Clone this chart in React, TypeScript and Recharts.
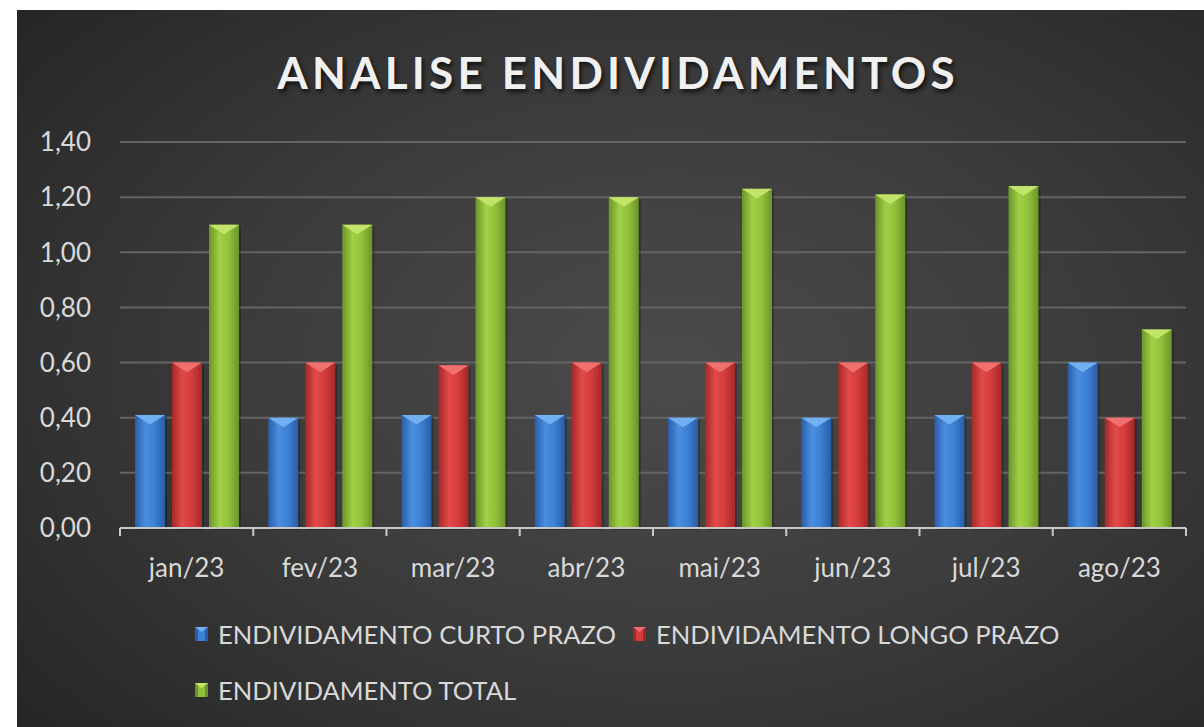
import React from "react";
import {
  BarChart,
  Bar,
  XAxis,
  YAxis,
  CartesianGrid,
  Legend,
} from "recharts";

const months = ["jan/23", "fev/23", "mar/23", "abr/23", "mai/23", "jun/23", "jul/23", "ago/23"];
const curtoPrazo = [0.41, 0.4, 0.41, 0.41, 0.4, 0.4, 0.41, 0.6];
const longoPrazo = [0.6, 0.6, 0.59, 0.6, 0.6, 0.6, 0.6, 0.4];
const total = [1.1, 1.1, 1.2, 1.2, 1.23, 1.21, 1.24, 0.72];
const yTicks = [0, 0.2, 0.4, 0.6, 0.8, 1.0, 1.2, 1.4];

const data = months.map((m, i) => ({
  month: m,
  curto: curtoPrazo[i],
  longo: longoPrazo[i],
  total: total[i],
}));

const W = 1187;
const H = 717;
const PLOT_LEFT = 103;
const PLOT_RIGHT = 1169;
const BAND = (PLOT_RIGHT - PLOT_LEFT) / months.length;
const FONT = "Lato, 'Noto Sans', sans-serif";

const series = [
  { key: "curto", name: "ENDIVIDAMENTO CURTO PRAZO", grad: "gBlue", top: "#72b0f2", dark: "#2a5da8", mid: "#4a8ee0", base: "#3d80d4" },
  { key: "longo", name: "ENDIVIDAMENTO LONGO PRAZO", grad: "gRed", top: "#f07070", dark: "#a52828", mid: "#e24a4a", base: "#d53c3c" },
  { key: "total", name: "ENDIVIDAMENTO TOTAL", grad: "gGreen", top: "#c2e46a", dark: "#6b9428", mid: "#a2d046", base: "#92c23c" },
];

const makeShape = (grad: string, top: string) => (props: any) => {
  const { x, y, width, height } = props;
  if (!height || height <= 0) return <g />;
  const d = Math.min(10, width * 0.32);
  return (
    <g>
      <rect x={x + 2} y={y + 2} width={width} height={height} fill="rgba(0,0,0,0.25)" />
      <rect x={x} y={y} width={width} height={height} fill={`url(#${grad})`} />
      <polygon points={`${x},${y} ${x + width},${y} ${x + width / 2},${y + d}`} fill={top} />
    </g>
  );
};

const XTick = (props: any) => {
  const { x, y, payload, index } = props;
  const last = index === months.length - 1;
  return (
    <g>
      <line x1={x - BAND / 2} x2={x - BAND / 2} y1={y} y2={y + 8} stroke="#c8c8c8" strokeWidth={2} />
      {last && <line x1={x + BAND / 2} x2={x + BAND / 2} y1={y} y2={y + 8} stroke="#c8c8c8" strokeWidth={2} />}
      <text x={x} y={y + 49} textAnchor="middle" fill="#d9d9d9" fontSize={26} fontFamily={FONT}>
        {payload.value}
      </text>
    </g>
  );
};

const LegendContent = () => (
  <div style={{ display: "flex", flexWrap: "wrap", width: 900, rowGap: 26, fontFamily: FONT }}>
    {series.map((s) => (
      <div key={s.key} style={{ display: "flex", alignItems: "center", height: 30, marginRight: 17 }}>
        <svg width={13} height={14} style={{ marginRight: 10 }}>
          <rect x={0} y={0} width={13} height={14} fill={s.base} />
          <rect x={0} y={0} width={3} height={14} fill={s.dark} />
          <rect x={10} y={0} width={3} height={14} fill={s.dark} />
          <polygon points="0,0 13,0 6.5,5" fill={s.top} />
        </svg>
        <span style={{ color: "#d9d9d9", fontSize: 25.6, whiteSpace: "nowrap" }}>{s.name}</span>
      </div>
    ))}
  </div>
);

export default function App() {
  return (
    <div style={{ position: "absolute", left: 0, top: 0, width: 1204, height: 727, background: "#fff", overflow: "hidden" }}>
      <div
        style={{
          position: "absolute",
          left: 17,
          top: 10,
          width: W,
          height: H,
          background: "radial-gradient(ellipse 70% 75% at 55% 50%, #4b4b4b 0%, #3c3c3c 50%, #272727 100%)",
        }}
      >
        <div
          style={{
            position: "absolute",
            left: 0,
            top: 32,
            width: 1202,
            textAlign: "center",
            color: "#f0f0f0",
            fontFamily: FONT,
            fontWeight: 700,
            fontSize: 44,
            letterSpacing: 4.2,
            lineHeight: "60px",
            textShadow: "2px 3px 4px rgba(0,0,0,0.7)",
          }}
        >
          ANALISE ENDIVIDAMENTOS
        </div>
        <BarChart
          width={W}
          height={H}
          data={data}
          margin={{ top: 132, right: W - PLOT_RIGHT, left: 0, bottom: 139 }}
          barCategoryGap={15}
          barGap={7}
          style={{ position: "absolute", left: 0, top: 0 }}
        >
          <defs>
            {series.map((s) => (
              <linearGradient key={s.grad} id={s.grad} x1="0" y1="0" x2="1" y2="0">
                <stop offset="0%" stopColor={s.dark} />
                <stop offset="35%" stopColor={s.mid} />
                <stop offset="65%" stopColor={s.base} />
                <stop offset="100%" stopColor={s.dark} />
              </linearGradient>
            ))}
          </defs>
          <CartesianGrid vertical={false} stroke="#646464" strokeWidth={2} />
          <XAxis
            dataKey="month"
            height={60}
            axisLine={{ stroke: "#c8c8c8", strokeWidth: 2 }}
            tickLine={false}
            tickSize={0}
            tickMargin={0}
            interval={0}
            tick={<XTick />}
          />
          <YAxis
            width={PLOT_LEFT}
            domain={[0, 1.4]}
            ticks={yTicks}
            axisLine={false}
            tickLine={false}
            tickSize={0}
            tickMargin={29}
            tickFormatter={(v: number) => v.toFixed(2).replace(".", ",")}
            tick={{ fill: "#d9d9d9", fontSize: 26, fontFamily: FONT }}
          />
          <Legend
            verticalAlign="middle"
            align="center"
            layout="horizontal"
            wrapperStyle={{ top: 609, left: 178, width: 900 }}
            content={<LegendContent />}
          />
          {series.map((s) => (
            <Bar
              key={s.key}
              dataKey={s.key}
              name={s.name}
              fill={s.base}
              shape={makeShape(s.grad, s.top)}
              isAnimationActive={false}
            />
          ))}
        </BarChart>
      </div>
    </div>
  );
}
